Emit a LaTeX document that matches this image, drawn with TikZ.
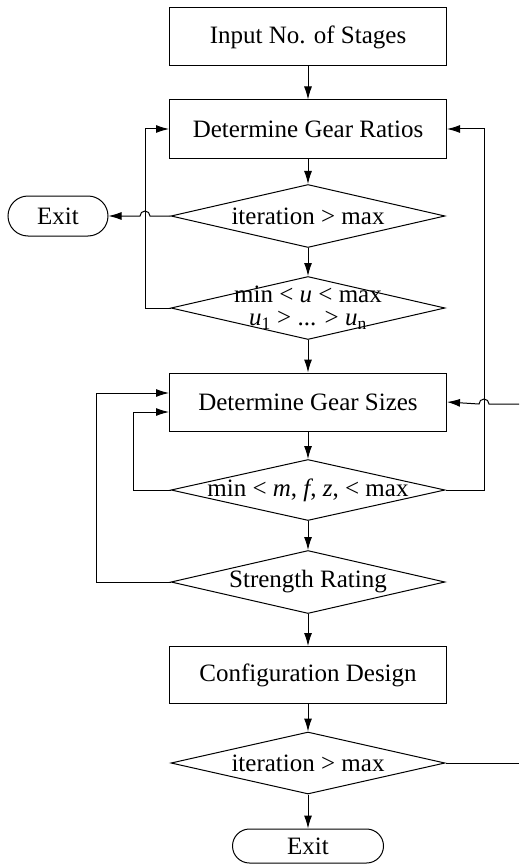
\documentclass[tikz,border=0pt]{standalone}
\usepackage{fontspec}
\setmainfont{Liberation Serif}
\usetikzlibrary{shapes.geometric,shapes.misc,arrows.meta}
\begin{document}
\begin{tikzpicture}[x=1pt,y=1pt,line width=1pt,declare function={mx=308; lx=145; rx=484;},
	every node/.style={font=\fontsize{25}{21}\selectfont},
	proc/.style={draw,rectangle,minimum width=277,minimum height=58,inner sep=0pt},
	dec/.style={draw,diamond,minimum width=274,minimum height=63,inner sep=0pt},
	term/.style={draw,rounded rectangle,minimum height=40,inner sep=0pt},
	>={Latex[length=13pt,width=8pt]}]
	\useasboundingbox (0,0) rectangle (519,-864);
	% main column
	\node[proc] (inp) at (mx,-37) {Input No. of Stages};
	\node[proc] (ratio) at (mx,-129) {Determine Gear Ratios};
	\node[dec,label={center:iteration > max}] (it1) at (mx,-216) {};
	\node[dec,label={[align=center,font=\fontsize{25}{23}\selectfont]center:min < \textit{u} < max\\\textit{u}\textsubscript{1} > ... > \textit{u}\textsubscript{n}}] (chk) at (mx,-308) {};
	\node[proc] (size) at (mx,-402) {Determine Gear Sizes};
	\node[dec,minimum height=61,label={center:{min < \textit{m}, \textit{f}, \textit{z}, < max}}] (mfz) at (mx,-490) {};
	\node[dec,label={center:Strength Rating}] (str) at (mx,-582) {};
	\node[proc,minimum height=57] (conf) at (mx,-675) {Configuration Design};
	\node[dec,minimum height=62,label={center:iteration > max}] (it2) at (mx,-763) {};
	\node[term,minimum width=151,minimum height=34] (exitB) at (mx,-846) {Exit};
	\node[term,minimum width=100] (exitA) at (58,-216) {Exit};
	\foreach \a/\b in {inp/ratio,ratio/it1,it1/chk,chk/size,size/mfz,mfz/str,str/conf,conf/it2,it2/exitB}{
		\draw[->] (\a) -- (\b);
	}
	% loops
	\draw[->] (chk.west) -- (lx,-308) |- (ratio.west);
	\draw[->] (mfz.east) -- (rx,-490) |- (ratio.east);
	\draw[->] (it1.west) -- (lx+5,-216) arc[start angle=0,end angle=180,radius=5] -- (exitA.east);
	\draw[->] (str.west) -- (96,-582) |- ([yshift=9]size.west);
	\draw[->] (mfz.west) -- (133,-490) |- ([yshift=-10]size.west);
	\coordinate (outA) at (519,-763);
	\coordinate (outB) at (519,-404);
	\draw (it2.east) -- (outA);
	\draw[->] (outB) -- (rx+5,-404) arc[start angle=0,end angle=180,radius=5] -- (size.east);
\end{tikzpicture}
\end{document}
